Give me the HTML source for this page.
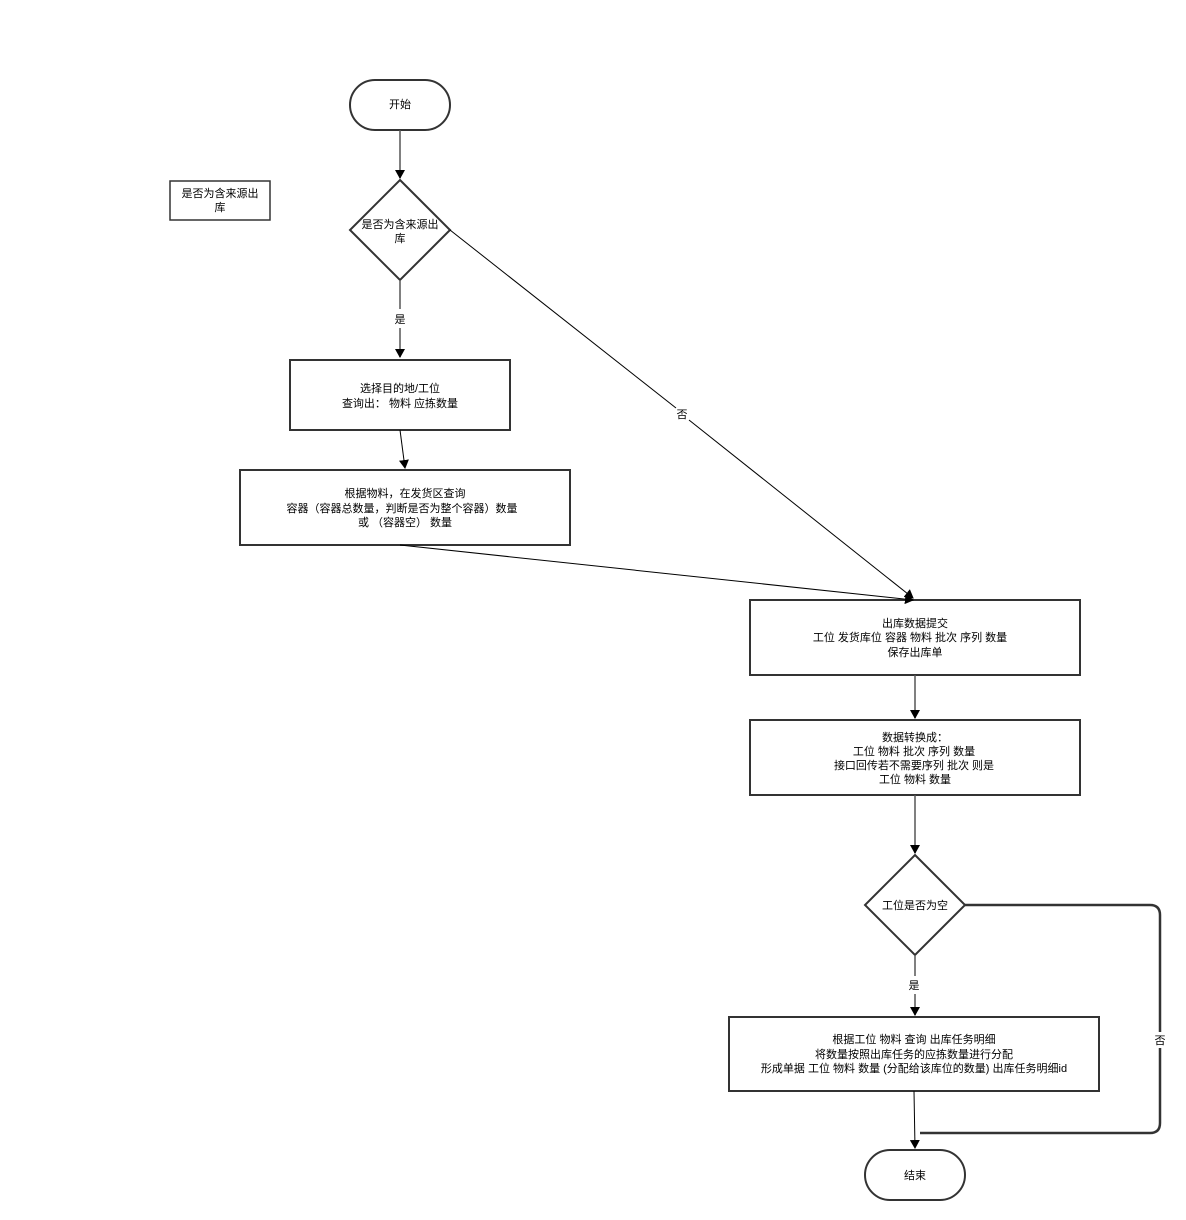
<!DOCTYPE html>
<html><head><meta charset="utf-8"><style>
html,body{margin:0;padding:0;background:#fff;}
svg{display:block;}
text{font-family:"Liberation Sans","Noto Sans CJK SC",sans-serif;font-size:11px;fill:#000;text-anchor:middle;}
</style></head><body>
<svg width="1186" height="1220" viewBox="0 0 1186 1220" xmlns="http://www.w3.org/2000/svg">
<defs>
<marker id="a" markerWidth="10" markerHeight="10" refX="8" refY="5" orient="auto" markerUnits="userSpaceOnUse">
<path d="M0,0 L9,5 L0,10 Z" fill="#000"/>
</marker>
</defs>
<g fill="#fff" stroke="#333" stroke-width="2">
<rect x="350" y="80" width="100" height="50" rx="25"/>
<rect x="170" y="181" width="100" height="39" stroke-width="1.5"/>
<polygon points="400,180 450,230 400,280 350,230"/>
<rect x="290" y="360" width="220" height="70"/>
<rect x="240" y="470" width="330" height="75"/>
<rect x="750" y="600" width="330" height="75"/>
<rect x="750" y="720" width="330" height="75"/>
<polygon points="915,855 965,905 915,955 865,905"/>
<rect x="729" y="1017" width="370" height="74"/>
<rect x="865" y="1150" width="100" height="50" rx="25"/>
</g>
<g stroke="#555" stroke-width="1.5" fill="none">
<line x1="400" y1="130" x2="400" y2="178" marker-end="url(#a)"/>
<line x1="400" y1="280" x2="400" y2="309"/>
<line x1="400" y1="328" x2="400" y2="357" marker-end="url(#a)"/>
<line x1="915" y1="675" x2="915" y2="718" marker-end="url(#a)"/>
<line x1="915" y1="795" x2="915" y2="853" marker-end="url(#a)"/>
<line x1="915" y1="955" x2="915" y2="976"/>
<line x1="915" y1="994" x2="915" y2="1015" marker-end="url(#a)"/>
<path d="M965,905 L1150,905 Q1160,905 1160,915 L1160,1123 Q1160,1133 1150,1133 L920,1133" stroke="#333" stroke-width="2.5"/>
</g>
<g stroke="#000" stroke-width="1" fill="none">
<line x1="400" y1="430" x2="405" y2="468" marker-end="url(#a)"/>
<line x1="400" y1="545" x2="913" y2="600" marker-end="url(#a)"/>
<line x1="450" y1="230" x2="676" y2="408"/>
<line x1="689" y1="420" x2="913" y2="598" marker-end="url(#a)"/>
<line x1="914" y1="1091" x2="915" y2="1148" marker-end="url(#a)"/>
</g>
<rect x="1150" y="1032" width="20" height="16" fill="#fff"/>
<text x="400" y="108">开始</text>
<text x="220" y="197">是否为含来源出</text>
<text x="220" y="211">库</text>
<text x="400" y="228">是否为含来源出</text>
<text x="400" y="242">库</text>
<text x="400" y="323">是</text>
<text x="682" y="418">否</text>
<text x="400" y="392">选择目的地/工位</text>
<text x="400" y="407">查询出：  物料   应拣数量</text>
<text x="405" y="497">根据物料，在发货区查询</text>
<text x="402" y="512">容器（容器总数量，判断是否为整个容器）数量</text>
<text x="405" y="526">或 （容器空） 数量</text>
<text x="915" y="627">出库数据提交</text>
<text x="910" y="641">工位  发货库位  容器 物料  批次  序列 数量</text>
<text x="915" y="656">保存出库单</text>
<text x="915" y="741">数据转换成：</text>
<text x="914" y="755">工位  物料   批次   序列   数量</text>
<text x="914" y="769">接口回传若不需要序列 批次 则是</text>
<text x="915" y="783">工位  物料  数量</text>
<text x="915" y="909">工位是否为空</text>
<text x="914" y="989">是</text>
<text x="914" y="1043">根据工位 物料 查询 出库任务明细</text>
<text x="914" y="1058">将数量按照出库任务的应拣数量进行分配</text>
<text x="914" y="1072">形成单据  工位  物料  数量 (分配给该库位的数量)  出库任务明细id</text>
<text x="1160" y="1044">否</text>
<text x="915" y="1179">结束</text>
</svg>
</body></html>
